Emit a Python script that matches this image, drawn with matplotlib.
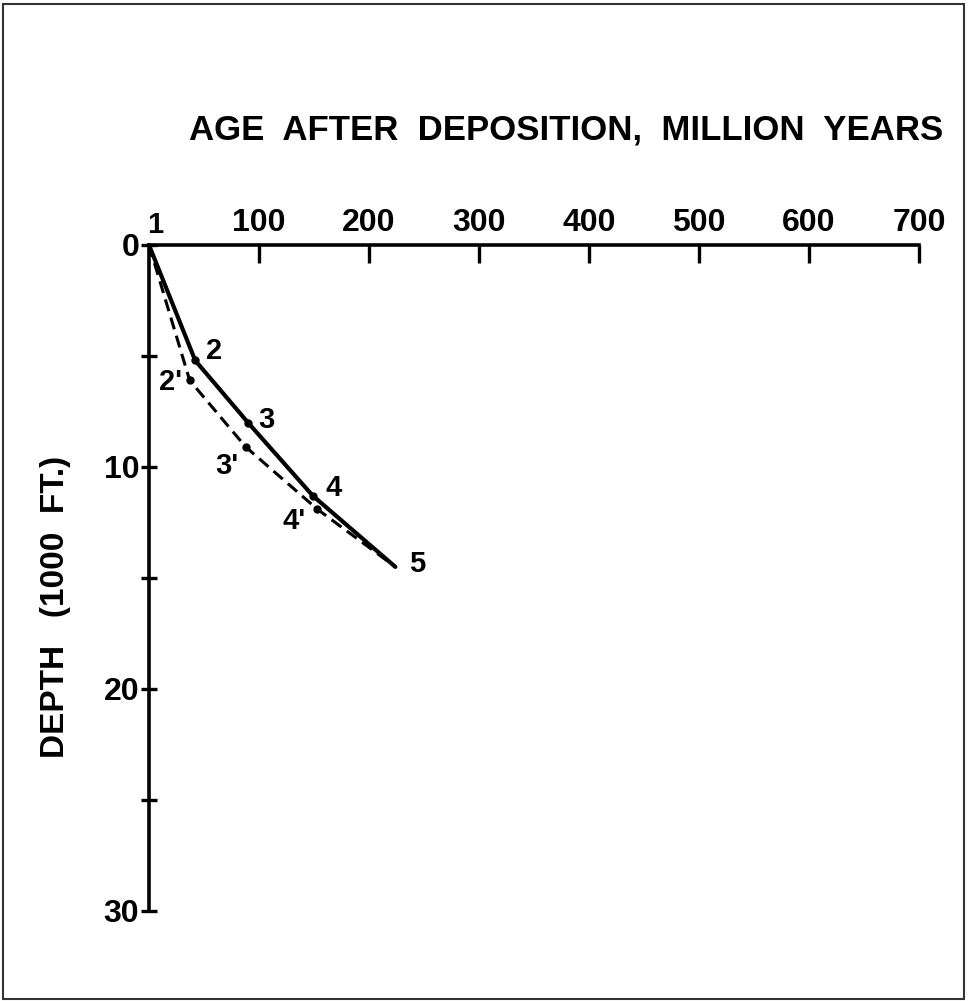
import numpy as np
import matplotlib.pyplot as plt
from matplotlib.patches import Rectangle

plt.rcParams['font.family'] = ['Liberation Sans', 'DejaVu Sans']
plt.rcParams['font.weight'] = 'bold'

# burial curves: age after deposition (my) vs depth (1000 ft)
age_solid = [0, 42, 90, 149, 224]
depth_solid = [0, 5.2, 8.0, 11.3, 14.5]
labels_solid = ['1', '2', '3', '4', '5']

age_dash = [0, 37, 88, 153, 224]
depth_dash = [0, 6.1, 9.1, 11.9, 14.5]
labels_dash = ['', "2'", "3'", "4'", '']

x_ticks = [100, 200, 300, 400, 500, 600, 700]
y_ticks = [0, 5, 10, 15, 20, 25, 30]
y_ticklabels = ['0', '', '10', '', '20', '', '30']

W, H = 968, 1001
fig = plt.figure(figsize=(W/100, H/100), dpi=100)
ax = fig.add_axes([149/W, 1-911/H, (919-149)/W, (911-245)/H])

ax.plot(age_solid, depth_solid, color='black', lw=3.0, solid_capstyle='round')
ax.plot(age_dash, depth_dash, color='black', lw=2.2, dashes=(4, 2.2))
ax.plot(age_solid[1:4], depth_solid[1:4], 'o', color='black', ms=5)
ax.plot(age_dash[1:4], depth_dash[1:4], 'o', color='black', ms=5)

offs_solid = [(6, 20), (19, 9), (18, 3), (21, 8), (22, 3)]
offs_dash = [(0, 0), (-19, -2), (-19, -19), (-23, -12), (0, 0)]
for x, y, s, o in zip(age_solid, depth_solid, labels_solid, offs_solid):
    ax.annotate(s, (x, y), xytext=o, textcoords='offset pixels',
                ha='center', va='center', fontsize=21, fontweight='bold')
for x, y, s, o in zip(age_dash, depth_dash, labels_dash, offs_dash):
    if s:
        ax.annotate(s, (x, y), xytext=o, textcoords='offset pixels',
                    ha='center', va='center', fontsize=21, fontweight='bold')

ax.set_xlim(0, 700)
ax.set_ylim(30, 0)
ax.xaxis.tick_top()
ax.set_xticks(x_ticks)
ax.set_xticklabels([str(t) for t in x_ticks], fontsize=23, fontweight='bold')
ax.set_yticks(y_ticks)
ax.set_yticklabels(y_ticklabels, fontsize=23, fontweight='bold')
ax.tick_params(axis='x', direction='in', length=13, width=2.4, pad=5)
ax.tick_params(axis='y', direction='inout', length=12, width=2.4, pad=1)

for side in ['right', 'bottom']:
    ax.spines[side].set_visible(False)
for side in ['top', 'left']:
    ax.spines[side].set_linewidth(2.6)

ax.patch.set_alpha(0)

fig.text(566/W, 1-130/H, 'AGE  AFTER  DEPOSITION,  MILLION  YEARS',
         ha='center', va='center', fontsize=25, fontweight='bold')
fig.text(56/W, 1-607/H, 'DEPTH   (1000  FT.)', rotation=90,
         ha='center', va='center', fontsize=24, fontweight='bold')

fig.patches.append(Rectangle((3/W, 2/H), (964-3)/W, (998-3)/H,
                             transform=fig.transFigure, fill=False,
                             edgecolor='#333333', lw=1.5))

fig.savefig('out.png', dpi=100)
